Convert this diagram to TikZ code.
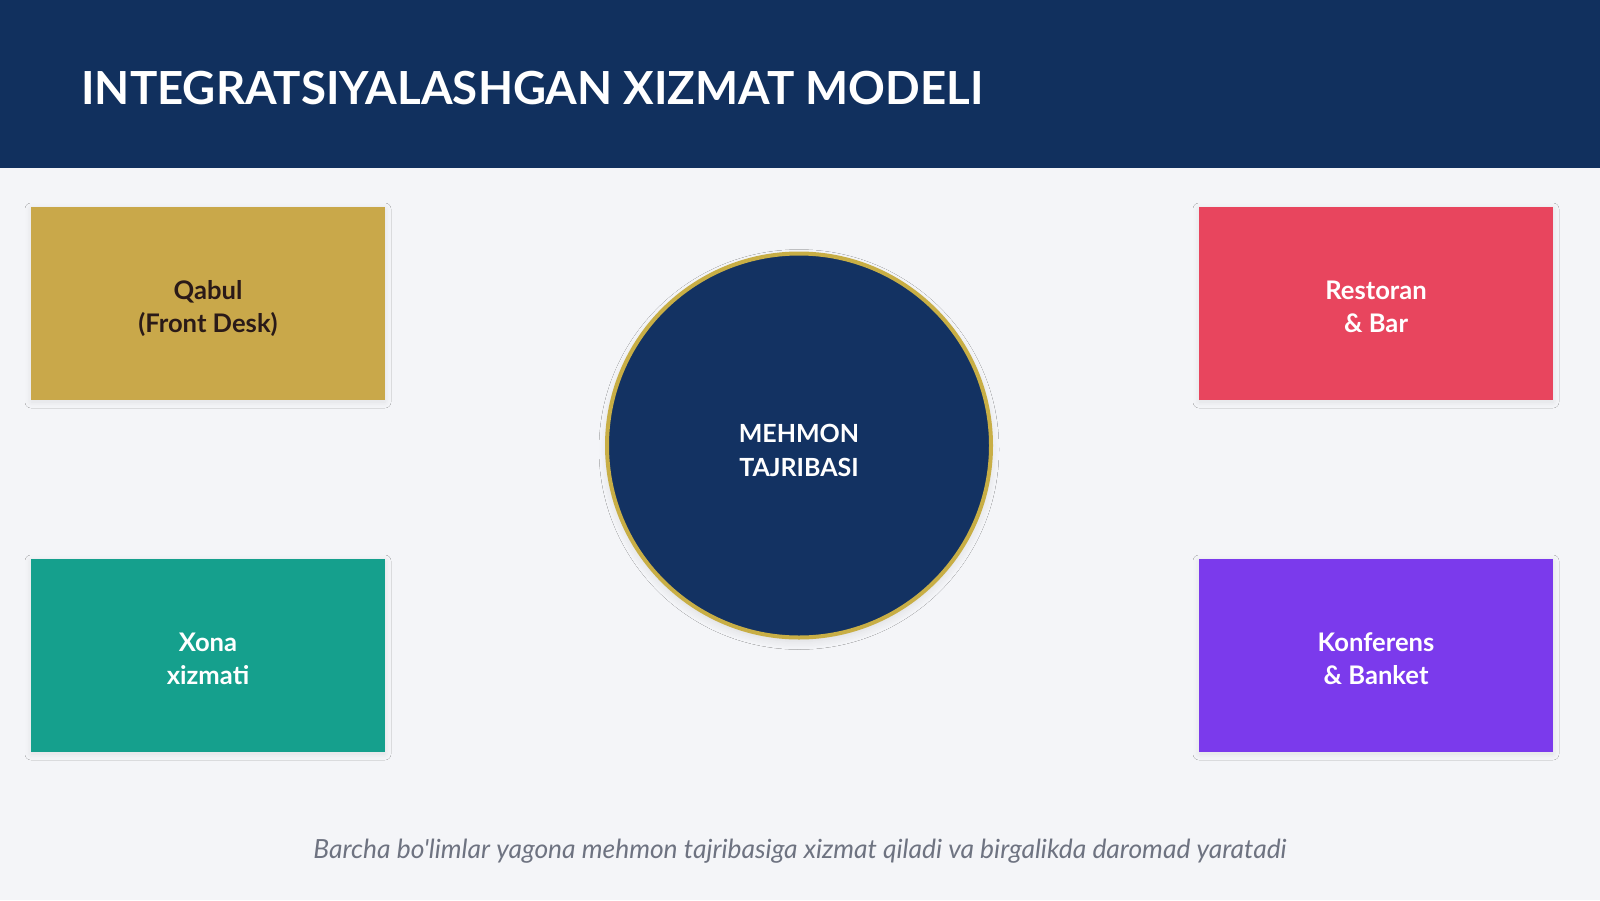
\documentclass[tikz,border=0pt]{standalone}
\usepackage{fontspec}
\setmainfont{Lato}
\newfontfamily\notefont[Ligatures=ResetAll]{Lato}
\usetikzlibrary{shadows.blur}
\definecolor{bg}{HTML}{F4F5F8}
\definecolor{navy}{HTML}{11305E}
\definecolor{navyc}{HTML}{133262}
\definecolor{gold}{HTML}{C9A84A}
\definecolor{ring}{HTML}{C8AE45}
\definecolor{rose}{HTML}{E8455E}
\definecolor{teal}{HTML}{15A08D}
\definecolor{violet}{HTML}{7B3AEC}
\definecolor{darktxt}{HTML}{2A1A18}
\definecolor{note}{HTML}{6E7381}
\newcommand\deptlines[2]{\vphantom{(}#1\\\vphantom{(}#2}
\tikzset{
  dept/.style={rectangle, minimum width=177pt, minimum height=96.5pt, inner sep=0pt,
    blur shadow={shadow xshift=0pt, shadow yshift=-1pt, shadow blur radius=3pt, shadow blur steps=8, shadow opacity=8}},
  hub/.style={circle, minimum size=192pt, inner sep=0pt, fill=navyc, draw=ring, line width=2pt,
    blur shadow={shadow xshift=0pt, shadow yshift=-2pt, shadow blur radius=4pt, shadow blur steps=8, shadow opacity=10}},
  deptlabel/.style={align=center, inner sep=0pt, font=\fontsize{12.8}{16.5}\selectfont\bfseries},
  hublabel/.style={align=center, inner sep=0pt, text=white, font=\fontsize{12.5}{17}\selectfont\bfseries},
}
\begin{document}
\begin{tikzpicture}[x=0.5pt,y=-0.5pt]
\useasboundingbox (0,0) rectangle (1600,900);
\fill[bg] (0,0) rectangle (1600,900);
\fill[navy] (0,0) rectangle (1600,168);
\node[anchor=base west, inner sep=0pt, text=white, font=\fontsize{22.8}{28}\selectfont\bfseries] (title) at (81,104) {INTEGRATSIYALASHGAN XIZMAT MODELI};
\node[dept, fill=gold] (qabul) at (208,303.5) {};
\node[dept, fill=rose] (restoran) at (1376,303.5) {};
\node[dept, fill=teal] (xona) at (208,655.5) {};
\node[dept, fill=violet] (konf) at (1376,655.5) {};
\node[deptlabel, text=darktxt] (qabult) at ([yshift=-2pt]qabul.center) {\deptlines{Qabul}{(Front Desk)}};
\node[deptlabel, text=white] (restorant) at ([yshift=-2pt]restoran.center) {\deptlines{Restoran}{\& Bar}};
\node[deptlabel, text=white] (xonat) at ([yshift=-2pt]xona.center) {\deptlines{Xona}{xizmati}};
\node[deptlabel, text=white] (konft) at ([yshift=-2pt]konf.center) {\deptlines{Konferens}{\& Banket}};
\node[hub] (hub) at (799,445.5) {};
\node[hublabel] (hubt) at ([yshift=-2.5pt]hub.center) {MEHMON\\TAJRIBASI};
\node[anchor=base, inner sep=0pt, text=note, font=\notefont\fontsize{13.2}{15}\selectfont\itshape] (note) at (800,858) {Barcha bo'limlar yagona mehmon tajribasiga xizmat qiladi va birgalikda daromad yaratadi};
\end{tikzpicture}
\end{document}
